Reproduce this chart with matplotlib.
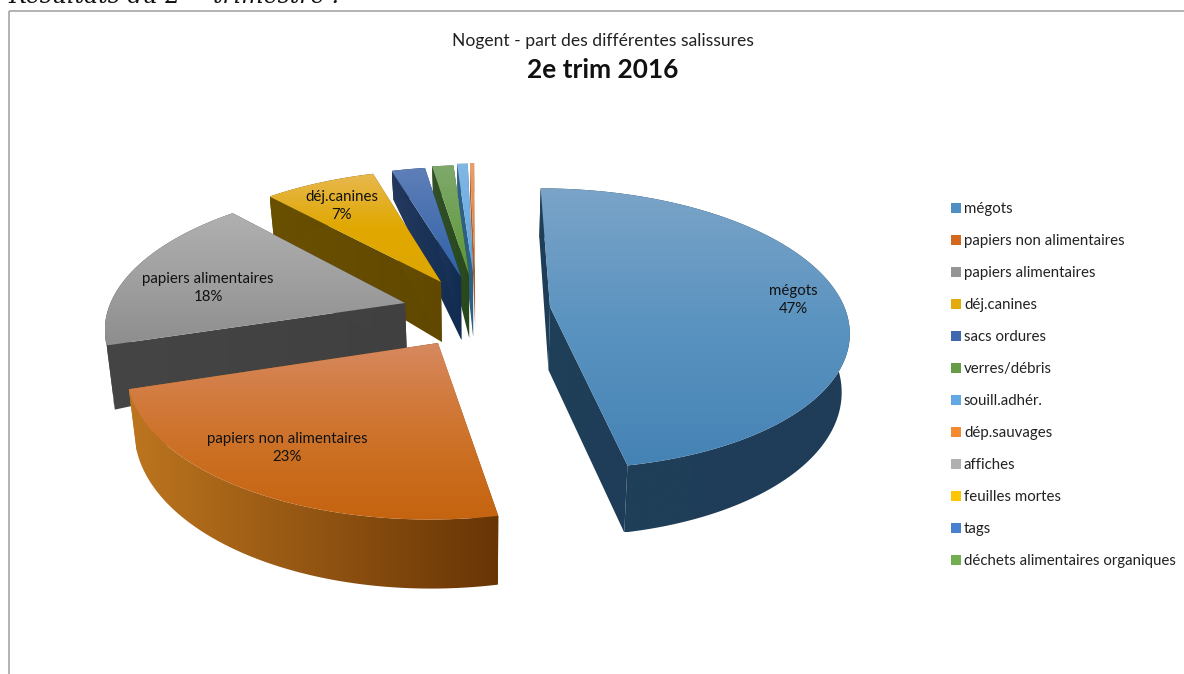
import numpy as np
import matplotlib
matplotlib.use("Agg")
import matplotlib.pyplot as plt
from matplotlib.colors import LinearSegmentedColormap
from matplotlib.patches import Polygon, Rectangle

# ---- data ----
categories = ["mégots", "papiers non alimentaires", "papiers alimentaires", "déj.canines",
              "sacs ordures", "verres/débris", "souill.adhér.", "dép.sauvages",
              "affiches", "feuilles mortes", "tags", "déchets alimentaires organiques"]
values = [47.0, 23.2, 17.9, 7.2, 2.2, 1.4, 0.7, 0.3, 0.03, 0.03, 0.02, 0.02]
title_line = "Nogent - part des différentes salissures"
title_bold = "2e trim 2016"

# ---- style ----
legend_colors = ["#4f8ec2", "#d2691e", "#959595", "#e3ab0c", "#3d68ad", "#659c45",
                 "#62a9e4", "#f58a33", "#b0b0b0", "#fdc506", "#4a7fcf", "#72ad4f"]
top_colors = [("#7ba4c8", "#5a93c0", "#4583b5"), ("#d6885f", "#d27a3c", "#cb6e20", "#c56410"),
              ("#b0b0b0", "#a0a0a0", "#8e8e8e"),
              ("#e8b850", "#e0a800", "#dea600"), ("#5f7fb8", "#3062a8"), ("#7fa96c", "#5c9836"),
              ("#82b7e4", "#5ca6e0"), ("#e8a070", "#d07a30")]
wall_colors = [("#1f4059", "#1f3c58"), ("#bd751f", "#683505"), ("#454545", "#404040"),
               ("#6a5000", "#604800"), ("#26395f", "#102c50"), ("#33502a", "#27481a"),
               ("#2f5f85", "#2f5f85"), ("#a86030", "#a86030")]
# screen position of each exploded slice's tip, height of tip wall, wall scale, radius scale
tip_px = [(550, 307), (438, 343), (405, 303), (441, 282),
          (461, 277), (469, 275), (473, 273), (475, 270)]
tip_h = [63, 60, 45, 60, 63, 63, 64, 57]
wall_scale = [0.99, 0.97, 1.07, 0.9, 0.6, 0.6, 0.6, 0.6]
radius_scale = [0.98, 0.98, 0.985, 0.98, 0.97, 0.97, 0.97, 0.95]
draw_order = [7, 6, 5, 4, 3, 2, 1, 0]
XC, YC, RX, RY, K, H, SQUEEZE = 480.0, 300.0, 298.0, 137.5, 0.156, 57.0, 0.978
FONT = "Lato"

fig = plt.figure(figsize=(11.84, 6.74), dpi=100)
ax = fig.add_axes([0, 0, 1, 1])
ax.set_axis_off()


def project(px, py):
    d = 1 + K * py
    return XC + RX * px / d, YC - RY * py / d


def unproject(sx, sy):
    yy = YC - sy
    py = yy / (RY - K * yy)
    return (sx - XC) * (1 + K * py) / RX, py


def wall_bottom(x, y, h):
    return XC + (x - XC) * SQUEEZE, y + h


def grad_poly(pts, colors, horizontal=False):
    pts = np.asarray(pts)
    cmap = LinearSegmentedColormap.from_list("g", list(colors))
    g = np.linspace(0, 1, 256)
    arr = g[None, :] if horizontal else g[:, None]
    x0, x1 = pts[:, 0].min(), pts[:, 0].max()
    y0, y1 = pts[:, 1].min(), pts[:, 1].max()
    im = ax.imshow(arr, cmap=cmap, extent=(x0, x1 + 1e-3, y1 + 1e-3, y0), aspect="auto",
                   interpolation="bilinear", zorder=2)
    clip = Polygon(pts, closed=True, transform=ax.transData, fc="none", ec="none")
    ax.add_patch(clip)
    im.set_clip_path(clip)


total = sum(values)
edges = np.cumsum([0] + values) / total * 2 * np.pi

for i in draw_order:
    ax0, ay0 = unproject(*tip_px[i])
    th = np.linspace(edges[i], edges[i + 1], 120)
    r = radius_scale[i]
    px, py = ax0 + r * np.sin(th), ay0 + r * np.cos(th)
    sx, sy = project(px, py)
    hh = H * wall_scale[i] / (1 + K * py)
    bx, by = wall_bottom(sx, sy, hh)
    tx, ty = tip_px[i]
    tbx, tby = wall_bottom(tx, ty, tip_h[i])
    # radial walls
    for e in (0, -1):
        grad_poly([(tx, ty), (sx[e], sy[e]), (bx[e], by[e]), (tbx, tby)], wall_colors[i], True)
    # outer wall
    grad_poly(np.r_[np.c_[sx, sy], np.c_[bx, by][::-1]], wall_colors[i], True)
    # top face
    grad_poly(np.r_[[(tx, ty)], np.c_[sx, sy]], top_colors[i])

# slice labels
label_pos = [(793, 300), (287, 448), (208, 288), (342, 206)]
for i, (lx, ly) in enumerate(label_pos):
    ax.text(lx, ly, f"{categories[i]}\n{round(values[i] / total * 100)}%", ha="center", va="center",
            fontsize=10.8, family=FONT, color="#111111", zorder=5, linespacing=1.42)

# titles
ax.text(603, 41, title_line, ha="center", va="center", fontsize=12.65, family=FONT, color="#222222", zorder=5)
ax.text(603, 70, title_bold, ha="center", va="center", fontsize=18.9, family=FONT, weight="bold",
        color="#111111", zorder=5)

# legend
for i, (c, n) in enumerate(zip(legend_colors, categories)):
    y = 208 + 32 * i
    ax.add_patch(Rectangle((951, y - 5), 10, 10, fc=c, ec="none", zorder=5))
    ax.text(964, y + 1, n, ha="left", va="center", fontsize=10.8, family=FONT, color="#222222", zorder=5)

# frame and clipped line of document text above the chart
ax.add_patch(Rectangle((9, 11), 1300, 800, fc="none", ec="#a6a6a6", lw=1.2, zorder=1))
ax.text(8, 3, "Résultats du 2", ha="left", va="baseline", fontsize=17, style="italic",
        family="DejaVu Serif", color="#111111", zorder=5)
ax.text(187, -1, "e", ha="left", va="baseline", fontsize=10, style="italic",
        family="DejaVu Serif", color="#111111", zorder=5)
ax.text(213, 3, "trimestre :", ha="left", va="baseline", fontsize=17, style="italic",
        family="DejaVu Serif", color="#111111", zorder=5)

ax.set_xlim(0, 1184)
ax.set_ylim(674, 0)
fig.savefig("out.png", dpi=100, facecolor="white")
